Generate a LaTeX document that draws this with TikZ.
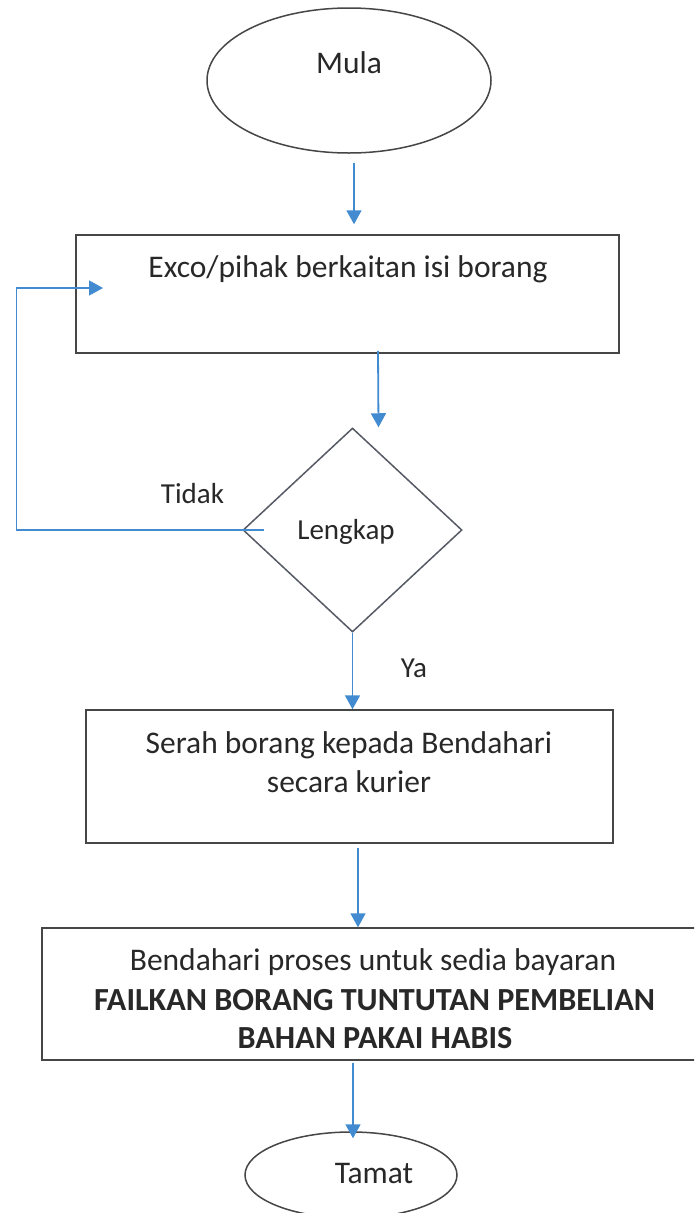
\documentclass[tikz,border=0pt]{standalone}
\usepackage{fontspec}
\setmainfont{Carlito}
\usetikzlibrary{shapes.geometric,arrows.meta}
\definecolor{arrblue}{RGB}{66,139,208}
\definecolor{edgegray}{RGB}{70,70,70}
\definecolor{diagray}{RGB}{85,90,100}
\definecolor{txtgray}{RGB}{40,40,40}
\tikzset{
  arr/.style={draw=arrblue,line width=1.8pt,-{Triangle[width=15pt,length=14pt]}},
  boxshape/.style={draw=edgegray,line width=1.5pt,rectangle,inner sep=0pt},
  ovalshape/.style={draw=edgegray,line width=1.5pt,ellipse,inner sep=0pt},
  diashape/.style={draw=diagray,line width=1.5pt,diamond,inner sep=0pt},
  txt/.style={anchor=base,inner sep=0pt,text=txtgray,font=\fontsize{31.5}{38}\selectfont},
  boldtxt/.style={anchor=base,inner sep=0pt,text=txtgray,font=\fontsize{32.2}{38}\selectfont\bfseries},
  small/.style={anchor=base,inner sep=0pt,text=txtgray,font=\fontsize{29}{35}\selectfont},
}
\begin{document}
\begin{tikzpicture}[x=1pt,y=-1pt]
\clip (0,0) rectangle (694,1213);
\fill[white] (0,0) rectangle (694,1213);
% shapes
\node[ovalshape,minimum width=284pt,minimum height=145pt] (mula) at (349,80.5) {};
\node[boxshape,minimum width=543pt,minimum height=118pt] (box1) at (347.5,294) {};
\node[diashape,minimum width=219pt,minimum height=204pt] (dia) at (352.5,530) {};
\node[boxshape,minimum width=527pt,minimum height=133pt] (box2) at (349.5,776.5) {};
\node[boxshape,minimum width=680pt,minimum height=132pt] (box3) at (382,994) {};
\node[ovalshape,minimum width=212pt,minimum height=86pt] (tamat) at (351,1175) {};
% texts
\node[txt] (tmula) at (349,73) {Mula};
\node[txt] (tbox1) at (348,277) {Exco/pihak berkaitan isi borang};
\node[small] (tdia) at (346,539) {Lengkap};
\node[small] (ttidak) at (192.5,503) {Tidak};
\node[small] (tya) at (414,677) {Ya};
\node[txt] (tbox2a) at (349,753) {Serah borang kepada Bendahari};
\node[txt] (tbox2b) at (349,792) {secara kurier};
\node[txt] (tbox3a) at (373,970) {Bendahari proses untuk sedia bayaran};
\node[boldtxt] (tbox3b) at (374.5,1010) {FAILKAN BORANG TUNTUTAN PEMBELIAN};
\node[boldtxt] (tbox3c) at (375,1048) {BAHAN PAKAI HABIS};
\node[txt] (ttamat) at (374,1183) {Tamat};
% connector points
\coordinate (loopstart) at ([xshift=22pt]dia.west);
\coordinate (loopcorner) at (16.5,288);
\coordinate (looptip) at (103,288);
% connectors
\draw[arr] ([xshift=5pt,yshift=-9pt]mula.south) -- ([xshift=6.5pt,yshift=10pt]box1.north);
\draw[arr] ([xshift=30.5pt,yshift=3pt]box1.south) -- ([xshift=26pt]dia.north);
\draw[arr,line width=1.6pt] (loopstart) -| (loopcorner) -- (looptip);
\draw[arr] (dia.south) -- ([xshift=3pt]box2.north);
\draw[arr] ([xshift=8.5pt,yshift=-4pt]box2.south) -- ([xshift=-24pt]box3.north);
\draw[arr] ([xshift=-29pt,yshift=-2pt]box3.south) -- ([xshift=2pt,yshift=-7pt]tamat.north);
\end{tikzpicture}
\end{document}
